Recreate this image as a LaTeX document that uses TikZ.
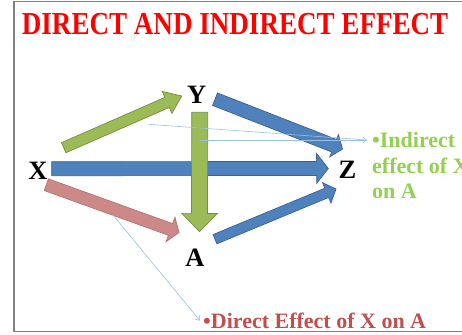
\documentclass[tikz,border=0pt]{standalone}
\usepackage{fontspec}
\setmainfont{Liberation Serif}
\usetikzlibrary{calc,arrows.meta}

\definecolor{agreen}{RGB}{155,187,89}
\definecolor{ablue}{RGB}{79,129,189}
\definecolor{ared}{RGB}{205,137,135}
\definecolor{lgreen}{RGB}{146,208,80}
\definecolor{dred}{RGB}{192,80,77}
\definecolor{callblue}{RGB}{155,190,228}

\tikzset{
  fat/.style n args={3}{to path={
    let \p1=(\tikztostart), \p2=(\tikztotarget), \p3=($(\p2)!#3!(\p1)$) in
    ($(\p1)!#1!90:(\p2)$) -- ($(\p3)!#1!-90:(\p1)$) -- ($(\p3)!#2!-90:(\p1)$)
    -- (\p2) -- ($(\p3)!#2!90:(\p1)$) -- ($(\p3)!#1!90:(\p1)$)
    -- ($(\p1)!#1!-90:(\p2)$) -- cycle}},
  garrow/.style={fill=agreen, draw=agreen!75!black, line width=0.7pt},
  barrow/.style={fill=ablue, draw=ablue!75!black, line width=0.7pt},
  rarrow/.style={fill=ared, draw=ared!85!black, line width=0.7pt},
  var/.style={inner sep=0pt, font=\fontsize{26.5}{28}\selectfont\bfseries},
  callout/.style={callblue, line width=0.6pt},
}

\begin{document}
\begin{tikzpicture}[x=1pt, y=-1pt]
  \useasboundingbox (0,0) rectangle (462,334);
  \clip (0,0) rectangle (462,334);
  \draw[black!50, line width=1.5pt] (14,1.5) rectangle (480,331.5);

  \node[anchor=base west, inner sep=0pt, text=red,
        font=\fontsize{32}{32}\selectfont\bfseries] (title) at (21.7,35)
        {\scalebox{0.846}[1]{DIRECT AND INDIRECT EFFECT}};

  \node[var] (X) at (38,171.3) {X};
  \node[var] (Y) at (196.7,95.3) {Y};
  \node[var] (Z) at (347.5,170) {Z};
  \node[var] (A) at (195,257.5) {A};

  % block arrows
  \draw[garrow, fat={5.5pt}{12pt}{16pt}] ($(X)+(25.7,-23.6)$) to ($(Y)+(-15,0.7)$);
  \draw[barrow, fat={7pt}{15pt}{11.7pt}] ($(X)+(13.7,-2.6)$) to ($(Z)+(-19.2,-1.5)$);
  \draw[rarrow, fat={6.2pt}{13pt}{9pt}] ($(X)+(8.3,13.4)$) to ($(A)+(-16,-25)$);
  \draw[barrow, fat={6.7pt}{12pt}{9pt}] ($(Y)+(18.3,3.9)$) to ($(Z)+(-5,-21)$);
  \draw[barrow, fat={5pt}{11pt}{10pt}] ($(A)+(20,-18.3)$) to ($(Z)+(-11.5,19)$);
  \draw[garrow, fat={8pt}{17.8pt}{18.3pt}] ($(Y)+(3,17)$) to ($(A)+(4.5,-25.8)$);

  \node[anchor=north west, inner sep=0pt, align=left, text=lgreen,
        font=\fontsize{22}{25.8}\selectfont\bfseries] (indirect) at (372,131.8)
        {•Indirect\\effect of X\\on A};
  \node[anchor=base west, inner sep=0pt, text=dred,
        font=\fontsize{22}{25}\selectfont\bfseries] (direct) at (203,328.3)
        {•Direct Effect of X on A};

  % callouts
  \coordinate (c1) at (148.3,124.3);
  \coordinate (c2) at (200,140);
  \coordinate (c3) at (113,215);
  \draw[callout] (c1) -- ($(indirect.north west)+(-5,8.2)$);
  \draw[callout, -{Straight Barb[length=4pt,width=6pt]}] (c2) -- ($(indirect.north west)+(-5,8.2)$);
  \draw[callout, -{Straight Barb[length=4pt,width=6pt]}] (c3) -- ([xshift=-3pt]direct.west);
\end{tikzpicture}
\end{document}
